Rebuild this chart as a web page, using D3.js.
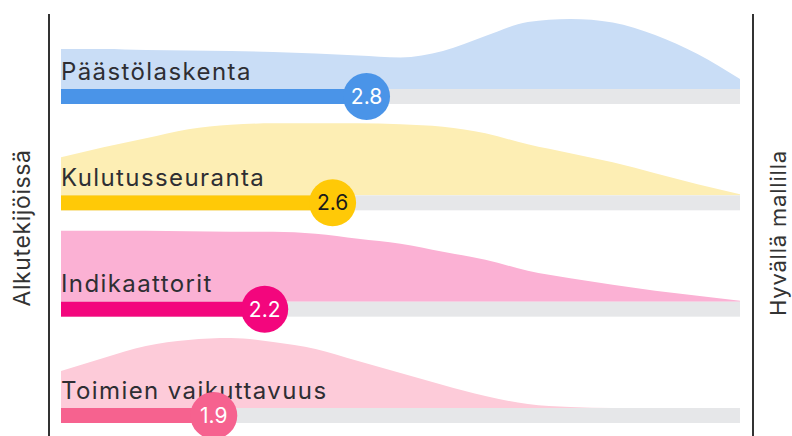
<!DOCTYPE html>
<html>
<head>
<meta charset="utf-8">
<script src="https://cdn.jsdelivr.net/npm/d3@7"></script>
<style>
  body { margin: 0; background: #fff; }
  svg { display: block; font-family: Inter, "Noto Sans", sans-serif; }
</style>
</head>
<body>
<svg id="chart" width="792" height="436"></svg>
<script>
// categories and their average scores (scale 1-5)
const categories = ['Päästölaskenta', 'Kulutusseuranta', 'Indikaattorit', 'Toimien vaikuttavuus']
const scores = [2.8, 2.6, 2.2, 1.9]

// points where the answer distribution was read
const grid = [1, 1.25, 1.5, 1.75, 2, 2.25, 2.5, 2.75, 3, 3.25, 3.5, 3.75, 4, 4.25, 4.5, 4.75, 5]

// distribution heights (relative density) for each category
const densPaasto = [40, 40, 39, 38.5, 38, 37, 35.5, 33.5, 31.5, 38, 53, 67, 70, 66.5, 54, 35, 10]
const densKulutus = [38, 48, 57, 66, 70.5, 72, 72, 72, 71, 68.5, 62, 51, 42, 33, 22, 11, 1]
const densIndik = [71, 71, 71, 70.5, 70, 70, 68, 63, 58, 50, 42, 31, 23.5, 17, 11, 6, 1]
const densToimet = [37, 50, 62, 68, 70, 66, 59, 47, 35, 23, 12, 4, 1, 0, 0, 0, 0]

const densities = [densPaasto, densKulutus, densIndik, densToimet]

const barColors = ['#4a94e8', '#ffc907', '#f3067d', '#f6628f']
const areaColors = ['#c9ddf6', '#fdeeb4', '#fbb1d4', '#fdcbd9']
const labelColors = ['#fff', '#1a1a1a', '#fff', '#fff']

const svg = d3.select('#chart')

const x = d3.scaleLinear()
.domain([1, 5])
.range([61, 740])

// y of each bar's top edge
const rowY = d3.scalePoint()
.domain(categories)
.range([89, 408])

const h = d3.scaleLinear()
.domain([0, 72])
.range([0, 72])

const barH = 15

const rows = categories.map((c, i) => ({
	name: c,
	score: scores[i],
	dens: grid.map((g, j) => [g, densities[i][j]]),
	bar: barColors[i],
	area: areaColors[i],
	txt: labelColors[i]
}))

// side lines
svg.append('line')
.attr('x1', 49).attr('x2', 49)
.attr('y1', 14).attr('y2', 436)
.style('stroke', '#333').style('stroke-width', 2)

svg.append('line')
.attr('x1', 753).attr('x2', 753)
.attr('y1', 14).attr('y2', 436)
.style('stroke', '#333').style('stroke-width', 2)

svg.append('text')
.attr('transform', 'translate(30,228) rotate(-90)')
.attr('text-anchor', 'middle')
.style('font-size', '23px')
.style('letter-spacing', '0.6px')
.style('fill', '#333')
.text('Alkutekijöissä')

svg.append('text')
.attr('transform', 'translate(786,233) rotate(-90)')
.attr('text-anchor', 'middle')
.style('font-size', '22px')
.style('letter-spacing', '0.8px')
.style('fill', '#333')
.text('Hyvällä mallilla')

const g = svg.selectAll('g.row')
.data(rows)
.enter()
.append('g')
.attr('class', 'row')

g.append('path')
.attr('d', d => d3.area()
	.x(p => x(p[0]))
	.y0(rowY(d.name))
	.y1(p => rowY(d.name) - h(p[1]))
	.curve(d3.curveMonotoneX)(d.dens))
.style('fill', d => d.area)

g.append('rect')
.attr('x', x(1))
.attr('y', d => rowY(d.name))
.attr('width', x(5) - x(1))
.attr('height', barH)
.style('fill', '#e6e7e9')

g.append('rect')
.attr('x', x(1))
.attr('y', d => rowY(d.name))
.attr('width', d => x(d.score) - x(1))
.attr('height', barH)
.style('fill', d => d.bar)

g.append('text')
.attr('x', x(1))
.attr('y', d => rowY(d.name) - 9.5)
.style('font-size', '24px')
.style('letter-spacing', '1.4px')
.style('fill', '#2e2e33')
.text(d => d.name)

g.append('circle')
.attr('cx', d => x(d.score))
.attr('cy', d => rowY(d.name) + barH / 2)
.attr('r', 23.5)
.style('fill', d => d.bar)

g.append('text')
.attr('x', d => x(d.score))
.attr('y', d => rowY(d.name) + barH / 2 + 7.5)
.attr('text-anchor', 'middle')
.style('font-size', '21px')
.style('fill', d => d.txt)
.text(d => d.score.toFixed(1))
</script>
</body>
</html>
